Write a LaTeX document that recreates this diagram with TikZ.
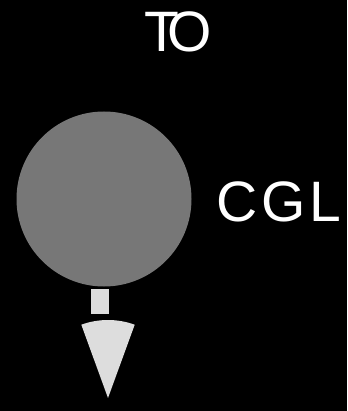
\documentclass[tikz,border=0pt]{standalone}
\usepackage{fontspec}
\setmainfont{Liberation Sans}
\definecolor{ballgray}{RGB}{119,119,119}
\definecolor{lightg}{RGB}{221,221,221}
\begin{document}
\begin{tikzpicture}[x=1pt,y=-1pt,
  lbl/.style={text=white,inner sep=0pt,anchor=base west,font=\fontsize{57}{60}\selectfont}]
\fill[black] (0,0) rectangle (347,411);
\useasboundingbox (0,0) rectangle (347,411);
\node[circle,fill=ballgray,minimum size=175pt,inner sep=0pt] (ball) at (104,199) {};
\node[fill=lightg,minimum width=18pt,minimum height=25pt,inner sep=0pt,anchor=north] (stem) at (100,289) {};
\coordinate (tip) at (108,398);
\coordinate (cl) at (81.3,324.7);
\coordinate (cr) at (134.7,324.7);
\fill[lightg] (tip) -- (cl) .. controls (98.55,318.43) and (117.45,318.43) .. (cr) -- cycle;
\node[lbl] (to) at (144,52) {T\kern-12pt O};
\node[lbl] (cgl) at (216,221) {C\kern4pt G\kern4pt L};
\end{tikzpicture}
\end{document}
